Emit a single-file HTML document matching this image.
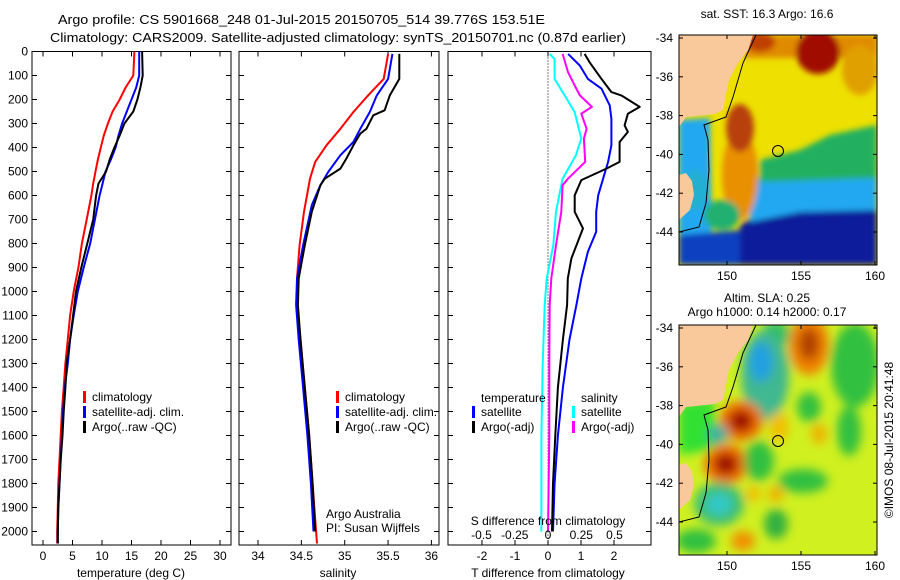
<!DOCTYPE html>
<html><head><meta charset="utf-8"><style>
html,body{margin:0;padding:0;background:#fff;}
svg{display:block;font-family:"Liberation Sans",sans-serif;}
</style></head><body>
<svg id="fig" width="900" height="580" viewBox="0 0 900 580" xmlns="http://www.w3.org/2000/svg">
<defs>
<filter id="blur1" x="-20%" y="-20%" width="140%" height="140%"><feGaussianBlur stdDeviation="3"/></filter>
<filter id="blur2" x="-20%" y="-20%" width="140%" height="140%"><feGaussianBlur stdDeviation="5"/></filter>
<clipPath id="clipM1"><rect x="679" y="35" width="198" height="230"/></clipPath>
<clipPath id="clipM2"><rect x="679" y="325" width="198" height="230"/></clipPath>
</defs>
<text x="58" y="24" font-size="13" textLength="487" lengthAdjust="spacingAndGlyphs">Argo profile: CS 5901668_248 01-Jul-2015 20150705_514 39.776S 153.51E</text>
<text x="50" y="42" font-size="13" textLength="576" lengthAdjust="spacingAndGlyphs">Climatology: CARS2009. Satellite-adjusted climatology: synTS_20150701.nc (0.87d earlier)</text>
<g id="panels"></g>
<g id="maps"></g>
<text transform="translate(893,440) rotate(-90)" text-anchor="middle" font-size="12">©IMOS 08-Jul-2015 20:41:48</text>
</svg>
<script>
// ---- data ----
const tempDepths = [0,100,150,200,250,300,350,400,450,500,550,600,700,800,900,1000,1100,1200,1300,1400,1500,1600,1700,1800,1900,2000,2050];
const tempClim   = [15.5,15.3,14.0,13.0,11.8,11.0,10.3,9.8,9.3,8.9,8.5,8.2,7.4,6.6,6.0,5.2,4.6,4.2,3.8,3.5,3.2,3.0,2.8,2.6,2.5,2.4,2.4];
const tempSat    = [16.3,16.3,15.8,15.0,14.2,13.4,12.8,12.3,11.5,10.6,10.1,9.6,8.8,8.0,6.9,5.9,5.2,4.6,4.2,3.7,3.4,3.2,3.0,2.8,2.6,2.5,2.5];
const tempArgo   = [16.8,16.9,16.5,16.0,15.3,13.8,13.0,12.1,11.3,10.7,9.4,9.0,8.5,7.5,6.5,5.6,5.1,4.6,4.0,3.8,3.5,3.3,3.0,2.8,2.6,2.5,2.5];
const salClimDepths = [10,114,183,252,322,391,460,530,668,807,946,1056,1200,1400,1600,1800,2000,2050];
const salClim       = [35.50,35.45,35.27,35.10,34.95,34.79,34.66,34.60,34.53,34.48,34.45,34.45,34.49,34.54,34.59,34.63,34.67,34.68];
const salSatDepths  = [10,114,183,252,322,377,432,502,557,640,807,946,1056,1200,1400,1600,1800,2000];
const salSat        = [35.55,35.50,35.37,35.29,35.18,35.10,34.95,34.81,34.72,34.62,34.52,34.45,34.44,34.47,34.52,34.57,34.61,34.64];
const salArgoDepths = [10,114,183,245,266,322,342,391,446,488,530,557,668,807,946,1056,1200,1400,1600,1800,2000];
const salArgo       = [35.63,35.63,35.52,35.46,35.33,35.25,35.18,35.10,35.02,34.95,34.77,34.72,34.62,34.54,34.47,34.46,34.49,34.54,34.59,34.63,34.66];
const dTArgoDepths = [10,45,114,169,183,231,259,308,335,377,460,488,536,599,668,737,862,946,1056,1200,1400,1600,1800,2000];
const dTArgo       = [1.11,1.26,1.62,1.92,2.22,2.78,2.42,2.32,2.42,2.17,2.17,1.77,1.01,0.81,0.81,1.06,0.71,0.60,0.58,0.45,0.30,0.22,0.15,0.12];
const dTSatDepths  = [10,58,114,155,224,280,391,460,530,599,668,751,834,946,1056,1200,1400,1600,1800,2000];
const dTSat        = [0.61,0.96,1.21,1.62,1.87,1.92,1.92,1.82,1.67,1.52,1.46,1.46,1.21,1.01,0.86,0.65,0.45,0.30,0.20,0.15];
const dSSatDepths  = [10,31,114,183,252,363,432,530,668,807,946,1056,1300,1600,2000];
const dSSat        = [0.013,0.05,0.05,0.125,0.20,0.25,0.21,0.11,0.06,0.04,-0.01,-0.025,-0.04,-0.05,-0.05];
const dSArgoDepths = [10,86,141,183,231,259,322,363,460,530,557,668,807,946,1056,1300,1600,2000];
const dSArgo       = [0.11,0.15,0.20,0.24,0.33,0.25,0.29,0.27,0.28,0.15,0.11,0.10,0.06,0.025,0.013,0.01,0.01,0.0];
const depthTicks = [0,100,200,300,400,500,600,700,800,900,1000,1100,1200,1300,1400,1500,1600,1700,1800,1900,2000];
const tempTicks = [0,5,10,15,20,25,30];
const salTicks = [34,34.5,35,35.5,36];
const dTTicks = [-2,-1,0,1,2];
const dSTicks = [-0.5,-0.25,0,0.25,0.5];
const dSTickLabels = ["-0.5","-0.25","0","0.25","0.5"];
const latTicks = [-34,-36,-38,-40,-42,-44];
const lonTicks = [150,155,160];

const NS="http://www.w3.org/2000/svg";
function mk(tag,attrs,parent,text){const e=document.createElementNS(NS,tag);for(const k in attrs)e.setAttribute(k,attrs[k]);if(text!==undefined)e.textContent=text;parent.appendChild(e);return e;}
const top0=51.5, bot=545;
const yD = d => top0 + d*0.24;
const xT = t => 43 + t*5.9;
const xS = s => 258 + (s-34)*86.7;
const xDT = t => 548 + t*33;
const xDS = s => 548 + s*133;
const P = document.getElementById('panels');

function frame(x0,x1,name){
  const g=mk('g',{},P);
  
  
  mk('rect',{x:x0,y:top0,width:x1-x0,height:bot-top0,fill:'none',stroke:'#000','stroke-width':1},g);
  depthTicks.forEach(d=>{
    mk('line',{x1:x0,x2:x0+5,y1:yD(d),y2:yD(d),stroke:'#000'},g);
    mk('line',{x1:x1,x2:x1-5,y1:yD(d),y2:yD(d),stroke:'#000'},g);
  });
  return g;
}
function xticks(g,vals,labels,fx,ly){
  vals.forEach((v,i)=>{
    const x=fx(v);
    mk('line',{x1:x,x2:x,y1:bot,y2:bot-5,stroke:'#000'},g);
    mk('line',{x1:x,x2:x,y1:top0,y2:top0+5,stroke:'#000'},g);
    const t=mk('text',{x:x,y:ly,'text-anchor':'middle','font-size':12},g,labels[i]);
    
    
  });
}
function line(g,depths,vals,fx,color,name,w){
  const pts=depths.map((d,i)=>fx(vals[i]).toFixed(1)+','+yD(d).toFixed(1)).join(' ');
  const pl=mk('polyline',{points:pts,fill:'none',stroke:color,'stroke-width':w||2,'stroke-linejoin':'round'},g);
  
  
}
function legend(g,x,y,items,name){
  const lg=mk('g',{},g);
  
  
  items.forEach((it,i)=>{
    const yy=y+i*15;
    if(it[0]) mk('rect',{x:x,y:yy-10,width:3,height:12,fill:it[0]},lg);
    const t=mk('text',{x:x+(it[0]?9:0),y:yy,'font-size':12},lg,it[1]);
    
    
  });
}

depthTicks.forEach(d=>{
  const t=mk('text',{x:28,y:yD(d)+4,'text-anchor':'end','font-size':12},P,String(d));
  
  
});

// Panel 1
const g1=frame(32,231,'temperature-panel');
xticks(g1,tempTicks,tempTicks.map(String),xT,560);
mk('text',{x:131,y:577,'text-anchor':'middle','font-size':12,},g1,'temperature (deg C)');
line(g1,tempDepths,tempClim,xT,'#f00','temp-climatology-line');
line(g1,tempDepths,tempSat,xT,'#00f','temp-satellite-line');
line(g1,tempDepths,tempArgo,xT,'#000','temp-argo-line');
legend(g1,83,401,[['#f00','climatology'],['#00f','satellite-adj. clim.'],['#000','Argo(..raw -QC)']],'temperature-legend');

// Panel 2
const g2=frame(239,439,'salinity-panel');
xticks(g2,salTicks,salTicks.map(String),xS,560);
mk('text',{x:338,y:577,'text-anchor':'middle','font-size':12,},g2,'salinity');
line(g2,salClimDepths,salClim,xS,'#f00','sal-climatology-line');
line(g2,salSatDepths,salSat,xS,'#00f','sal-satellite-line');
line(g2,salArgoDepths,salArgo,xS,'#000','sal-argo-line');
legend(g2,336,401,[['#f00','climatology'],['#00f','satellite-adj. clim.'],['#000','Argo(..raw -QC)']],'salinity-legend');
mk('text',{x:326,y:518,'font-size':12,},g2,'Argo Australia');
mk('text',{x:326,y:532,'font-size':12,},g2,'PI: Susan Wijffels');

// Panel 3
const g3=frame(448,651,'difference-panel');
xticks(g3,dTTicks,dTTicks.map(String),xDT,560);
mk('text',{x:548,y:577,'text-anchor':'middle','font-size':12,},g3,'T difference from climatology');
mk('line',{x1:548,x2:548,y1:top0,y2:bot,stroke:'#000','stroke-dasharray':'1,2',},g3);
line(g3,dSSatDepths,dSSat,xDS,'#0ff','dsal-satellite-line');
line(g3,dSArgoDepths,dSArgo,xDS,'#f0f','dsal-argo-line');
line(g3,dTSatDepths,dTSat,xDT,'#00f','dtemp-satellite-line');
line(g3,dTArgoDepths,dTArgo,xDT,'#000','dtemp-argo-line');
dSTicks.forEach((v,i)=>{
  const t=mk('text',{x:xDS(v),y:539,'text-anchor':'middle','font-size':12},g3,dSTickLabels[i]);
  
  
});
mk('text',{x:548,y:525,'text-anchor':'middle','font-size':12,},g3,'S difference from climatology');
legend(g3,481,402,[[null,'temperature']],'temp-diff-legend-title');
legend(g3,472,416,[['#00f','satellite'],['#000','Argo(-adj)']],'temp-diff-legend');
legend(g3,581,402,[[null,'salinity']],'sal-diff-legend-title');
legend(g3,572,416,[['#0ff','satellite'],['#f0f','Argo(-adj)']],'sal-diff-legend');

// ---- maps ----
const M=document.getElementById('maps');
function map(y0,clip,titles,blobs,base,blurId,name){
  const g=mk('g',{},M);
  
  
  const c=mk('g',{'clip-path':'url(#'+clip+')'},g);
  mk('rect',{x:679,y:y0,width:198,height:230,fill:base},c);
  const bg=mk('g',{filter:'url(#'+blurId+')'},c);
  blobs.forEach(b=>{
    if(b[0]==='p') mk('polygon',{points:b[1],fill:b[2]},bg);
    else mk('ellipse',{cx:b[0],cy:b[1],rx:b[2],ry:b[3],fill:b[4]},bg);
  });
  const Y=v=>y0+v;
  mk('polygon',{points:`679,${Y(0)} 753,${Y(0)} 748,${Y(15)} 738,${Y(28)} 729,${Y(45)} 723,${Y(75)} 715,${Y(79)} 686,${Y(82)} 679,${Y(92)}`,fill:'#f9c89b',},c);
  mk('polygon',{points:`679,${Y(140)} 686,${Y(138)} 692,${Y(146)} 694,${Y(160)} 690,${Y(175)} 679,${Y(185)}`,fill:'#f9c89b'},c);
  mk('polyline',{points:`756,${Y(0)} 743,${Y(28)} 733,${Y(62)} 726,${Y(82)} 704,${Y(90)} 708,${Y(105)} 709,${Y(135)} 706,${Y(168)} 699,${Y(192)} 679,${Y(197)}`,fill:'none',stroke:'#000','stroke-width':1},c);
  mk('rect',{x:679,y:y0,width:198,height:230,fill:'none',stroke:'#000'},g);
  mk('circle',{cx:778,cy:Y(116),r:5.5,fill:'none',stroke:'#000','stroke-width':1,},g);
  latTicks.forEach(l=>{
    const y=y0+3+(-34-l)*19.4;
    mk('line',{x1:679,x2:683,y1:y,y2:y,stroke:'#000'},g);
    mk('line',{x1:877,x2:873,y1:y,y2:y,stroke:'#000'},g);
    const t=mk('text',{x:673,y:y+4,'text-anchor':'end','font-size':12},g,String(l));
    
    
  });
  lonTicks.forEach(l=>{
    const x=727+(l-150)*14.8;
    mk('line',{x1:x,x2:x,y1:y0+230,y2:y0+226,stroke:'#000'},g);
    mk('line',{x1:x,x2:x,y1:y0,y2:y0+4,stroke:'#000'},g);
    const t=mk('text',{x:x,y:y0+245,'text-anchor':'middle','font-size':12},g,String(l));
    
    
  });
  titles.forEach(tt=>{
    const t=mk('text',{x:767,y:tt[1],'text-anchor':'middle','font-size':12},g,tt[0]);
    
    
  });
}
const sstBlobs=[
  ['p','679,120 710,118 712,265 679,265','#20a8f0'],
  ['p','740,225 760,212 800,205 877,205 877,265 740,265','#0a1a9a'],
  ['p','679,235 740,230 740,265 679,265','#1040c0'],
  ['p','750,178 877,172 877,210 800,212 750,222','#20a8f0'],
  ['p','760,160 800,150 830,135 877,125 877,178 760,182','#20b060'],
  ['p','745,35 877,35 877,58 745,58','#e08a00'],
  [818,52,22,22,'#a00800'],[760,42,15,10,'#c04000'],[860,70,18,25,'#e0a000'],
  [740,175,18,45,'#e89000'],[740,128,14,24,'#b84010'],
  [722,215,18,15,'#20b070'],[695,190,12,20,'#20b0d0']
];
map(35,'clipM1',[['sat. SST: 16.3 Argo: 16.6',18]],sstBlobs,'#eee000','blur1','sst-map');
const slaBlobs=[
  ['p','679,402 715,400 715,450 679,455','#30e030'],
  [776,334,14,14,'#30c060'],
  [765,375,24,45,'#40b890'],[761,362,12,20,'#20a0e0'],
  [809,345,20,30,'#f08000'],[809,344,10,16,'#b04000'],
  [855,365,24,42,'#30c040'],
  [741,421,22,20,'#f07000'],[741,421,12,11,'#a00800'],
  [726,464,22,20,'#f07000'],[726,464,12,11,'#a00800'],
  [718,434,10,10,'#40b0a0'],
  [719,504,25,22,'#40c070'],[719,504,13,11,'#30c8c8'],
  [759,461,15,20,'#30c040'],[809,407,12,15,'#30c040'],
  [849,431,12,25,'#30c040'],[803,481,25,12,'#30c040'],
  [776,524,12,15,'#30b040'],[696,541,20,12,'#30c040'],
  [779,427,10,15,'#f0c000'],[819,434,8,10,'#f0b000'],
  [743,541,12,10,'#f09000'],[776,494,8,8,'#f0b000'],[753,494,8,8,'#f0c000']
];
map(325,'clipM2',[['Altim. SLA: 0.25',302],['Argo h1000: 0.14 h2000: 0.17',316]],slaBlobs,'#d0f020','blur2','sla-map');
</script>
</body></html>
